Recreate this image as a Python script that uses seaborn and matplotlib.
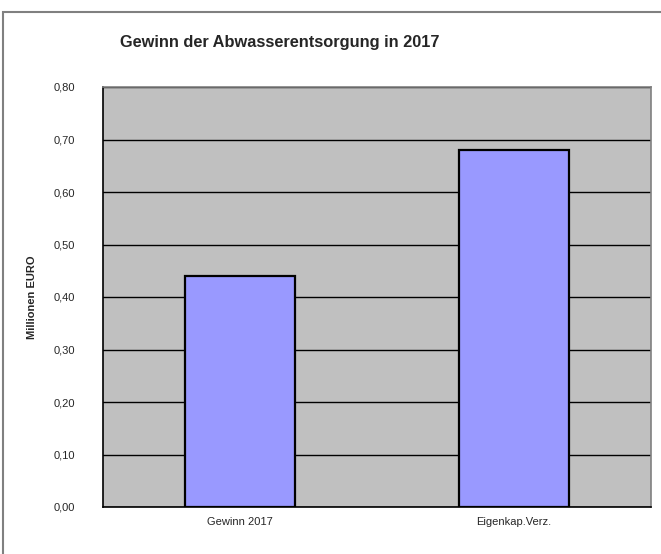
import matplotlib
matplotlib.use("Agg")
import matplotlib.pyplot as plt
import seaborn as sns
import pandas as pd
from matplotlib.patches import Rectangle
from matplotlib.ticker import FuncFormatter, FixedLocator

categories = ["Gewinn 2017", "Eigenkap.Verz."]
values = [0.44, 0.68]
title = "Gewinn der Abwasserentsorgung in 2017"
ylabel = "Millionen EURO"

sns.set_style("white")
plt.rcParams['font.family'] = ['Liberation Sans', 'DejaVu Sans']

df = pd.DataFrame({"cat": categories, "val": values})

fig = plt.figure(figsize=(6.61, 5.54), dpi=100)
ax = fig.add_axes([103 / 661, 47 / 554, 548 / 661, 420 / 554])

# outer chart frame (cut off at right and bottom like the original)
fig.patches.append(Rectangle((3 / 661, -0.05), 1.0, 1 - 12 / 554 + 0.05,
                             transform=fig.transFigure, fill=False,
                             edgecolor='#808080', linewidth=1.5))

ax.set_facecolor('#C0C0C0')
ax.set_axisbelow(True)
ax.yaxis.grid(True, color='black', linewidth=1.0)

sns.barplot(data=df, x="cat", y="val", color='#9999FF', saturation=1,
            width=0.40, edgecolor='black', linewidth=1.6, ax=ax)

ax.set_xlim(-0.5, 1.5)
ax.set_ylim(0, 0.8)
ax.set_yticks([i / 10 for i in range(9)])
ax.yaxis.set_major_formatter(FuncFormatter(lambda v, p: f"{v:.2f}".replace('.', ',')))
ax.tick_params(axis='y', labelsize=8, length=4, width=1, color='black', pad=16)
ax.tick_params(axis='x', which='major', labelsize=8, length=0, pad=7)
ax.xaxis.set_minor_locator(FixedLocator([-0.5, 0.5, 1.5]))
ax.tick_params(axis='x', which='minor', length=4, width=1, color='black')

ax.set_xlabel("")
ax.set_ylabel(ylabel, fontsize=8, fontweight='bold', labelpad=12)

for s in ['left', 'bottom']:
    ax.spines[s].set_color('black')
    ax.spines[s].set_linewidth(1.2)
for s in ['top', 'right']:
    ax.spines[s].set_color('#808080')
    ax.spines[s].set_linewidth(1.2)

fig.text(280 / 661, 1 - 43 / 554, title, ha='center', va='center',
         fontsize=11.8, fontweight='bold')

fig.savefig("out.png", dpi=100)
